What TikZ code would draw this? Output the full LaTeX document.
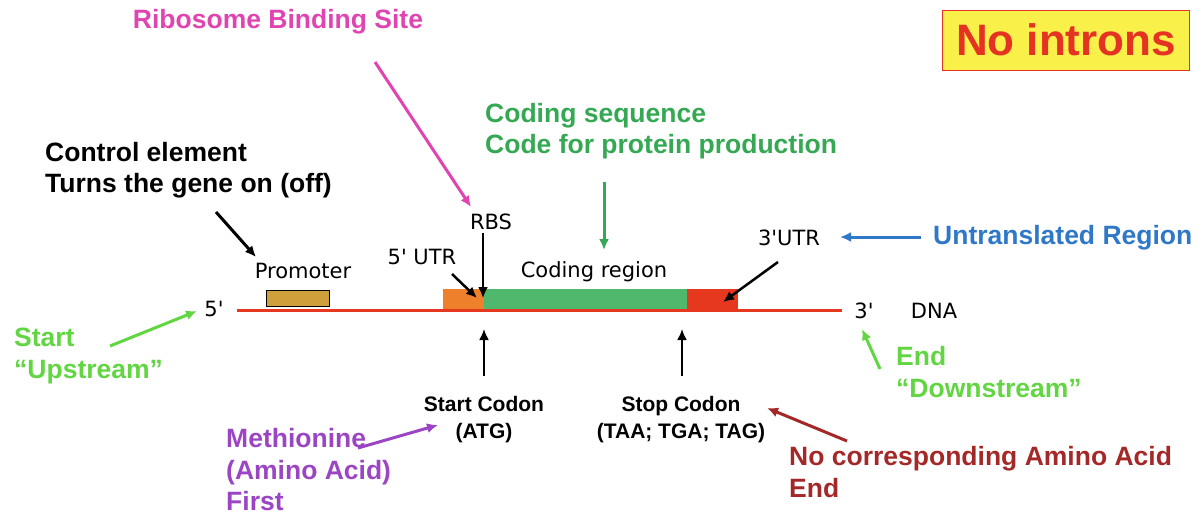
\documentclass[tikz,border=0pt]{standalone}
\usepackage{fontspec}
\setmainfont{Liberation Sans}
\newfontfamily\dnafont{DejaVu Sans}
\usepackage{xcolor}
\usepackage{tikz}
\usetikzlibrary{arrows.meta,positioning}

\definecolor{dnared}{RGB}{230,56,30}
\definecolor{utrorange}{RGB}{238,128,44}
\definecolor{codegreen}{RGB}{80,184,108}
\definecolor{promgold}{RGB}{205,160,60}
\definecolor{ribopink}{RGB}{224,68,176}
\definecolor{seqgreen}{RGB}{52,168,83}
\definecolor{utrblue}{RGB}{47,120,200}
\definecolor{endgreen}{RGB}{98,214,66}
\definecolor{metpurple}{RGB}{155,69,197}
\definecolor{stopred}{RGB}{165,40,40}
\definecolor{introyellow}{RGB}{249,240,74}
\definecolor{introred}{RGB}{228,50,35}

\begin{document}
\begin{tikzpicture}[
            x=1pt, y=-1pt,
            >={Latex[length=11pt,width=10pt]},
            note/.style={font=\fontsize{26.5}{31.5}\selectfont\bfseries, align=left, inner sep=0pt, anchor=west},
            codon/.style={font=\fontsize{21}{27}\selectfont\bfseries, align=center, inner sep=0pt},
            dnalabel/.style={font=\dnafont\fontsize{21}{24}\selectfont, inner sep=0pt},
            block/.style={minimum height=22pt, inner sep=0pt, anchor=south west},
            arrow/.style={->, line width=3pt}
        ]
        \useasboundingbox (0,0) rectangle (1204,515);

        % gene on the DNA strand
        \node[block, fill=utrorange, minimum width=41pt] (utr5) at (443,311) {};
        \node[block, fill=codegreen, minimum width=203pt] (coding) at (484,311) {};
        \node[block, fill=dnared, minimum width=51pt] (utr3) at (687,311) {};
        \node[block, draw=black, line width=1pt, fill=promgold, minimum width=63pt, minimum height=16pt] (promoter) at (266,307) {};
        \coordinate (dnaL) at (237,310);
        \coordinate (dnaR) at (842,310);
        \draw[dnared, line width=3pt] (dnaL) -- (dnaR);

        \node[dnalabel] (five) at (214,309) {5\textquotesingle};
        \node[dnalabel] (three) at (864,311) {3\textquotesingle};
        \node[dnalabel] (dna) at (934,311) {DNA};
        \node[dnalabel] (promlabel) at (303,271) {Promoter};
        \node[dnalabel] (utr5label) at (422,257) {5\textquotesingle{} UTR};
        \node[dnalabel] (rbs) at (491,222) {RBS};
        \node[dnalabel] (codinglabel) at (594,272) {Coding region};
        \node[dnalabel] (utr3label) at (789,238) {3\textquotesingle UTR};

        % notes
        \node[note, text=ribopink, anchor=center] (ribo) at (278,22) {Ribosome Binding Site};
        \node[note] (control) at (45,170) {Control element\\Turns the gene on (off)};
        \node[note, text=seqgreen] (codeseq) at (485,131) {Coding sequence\\Code for protein production};
        \node[note, text=utrblue] (untrans) at (933,238) {Untranslated Region};
        \node[note, text=endgreen] (upstream) at (14,356) {Start\\“Upstream”};
        \node[note, text=endgreen] (downstream) at (896,372) {End\\“Downstream”};
        \node[note, text=metpurple] (methionine) at (226,470) {Methionine\\(Amino Acid)\\First};
        \node[note, text=stopred] (nocorr) at (789,472) {No corresponding Amino Acid\\End};
        \node[codon] (startcodon) at (484,420) {Start Codon\\(ATG)};
        \node[codon] (stopcodon) at (681,420) {Stop Codon\\(TAA; TGA; TAG)};
        \node[draw=introred, line width=1pt, fill=introyellow, text=introred, font=\fontsize{44}{50}\selectfont\bfseries,
              minimum width=247pt, minimum height=60pt] (introns) at (1066,40) {No introns};

        % arrow ends
        \coordinate (controlA) at (216,212);   \coordinate (controlB) at (256,257);
        \coordinate (riboA) at (375,62);       \coordinate (riboB) at (471,207);
        \coordinate (seqA) at (604,182);       \coordinate (seqB) at (604,250);
        \coordinate (untransA) at (921,237);   \coordinate (untransB) at (840,237);
        \coordinate (utr5A) at (452,274);      \coordinate (utr5B) at (477,298);
        \coordinate (rbsA) at (483,233);       \coordinate (rbsB) at (483,298);
        \coordinate (utr3A) at (778,262);      \coordinate (utr3B) at (723,302);
        \coordinate (startA) at (484,376);     \coordinate (startB) at (484,329);
        \coordinate (stopA) at (682,376);      \coordinate (stopB) at (682,329);
        \coordinate (upA) at (110,346);        \coordinate (upB) at (197,311);
        \coordinate (downA) at (880,369);      \coordinate (downB) at (862,329);
        \coordinate (metA) at (358,448);       \coordinate (metB) at (438,425);
        \coordinate (nocorrA) at (847,441);    \coordinate (nocorrB) at (767,408);

        \draw[arrow] (controlA) -- (controlB);
        \draw[arrow, ribopink] (riboA) -- (riboB);
        \draw[arrow, seqgreen] (seqA) -- (seqB);
        \draw[arrow, utrblue] (untransA) -- (untransB);
        \draw[arrow, line width=2.5pt] (utr5A) -- (utr5B);
        \draw[arrow, line width=2pt] (rbsA) -- (rbsB);
        \draw[arrow, line width=2.5pt] (utr3A) -- (utr3B);
        \draw[arrow, line width=2pt] (startA) -- (startB);
        \draw[arrow, line width=2pt] (stopA) -- (stopB);
        \draw[arrow, endgreen] (upA) -- (upB);
        \draw[arrow, endgreen] (downA) -- (downB);
        \draw[arrow, metpurple] (metA) -- (metB);
        \draw[arrow, stopred] (nocorrA) -- (nocorrB);
    \end{tikzpicture}
\end{document}
